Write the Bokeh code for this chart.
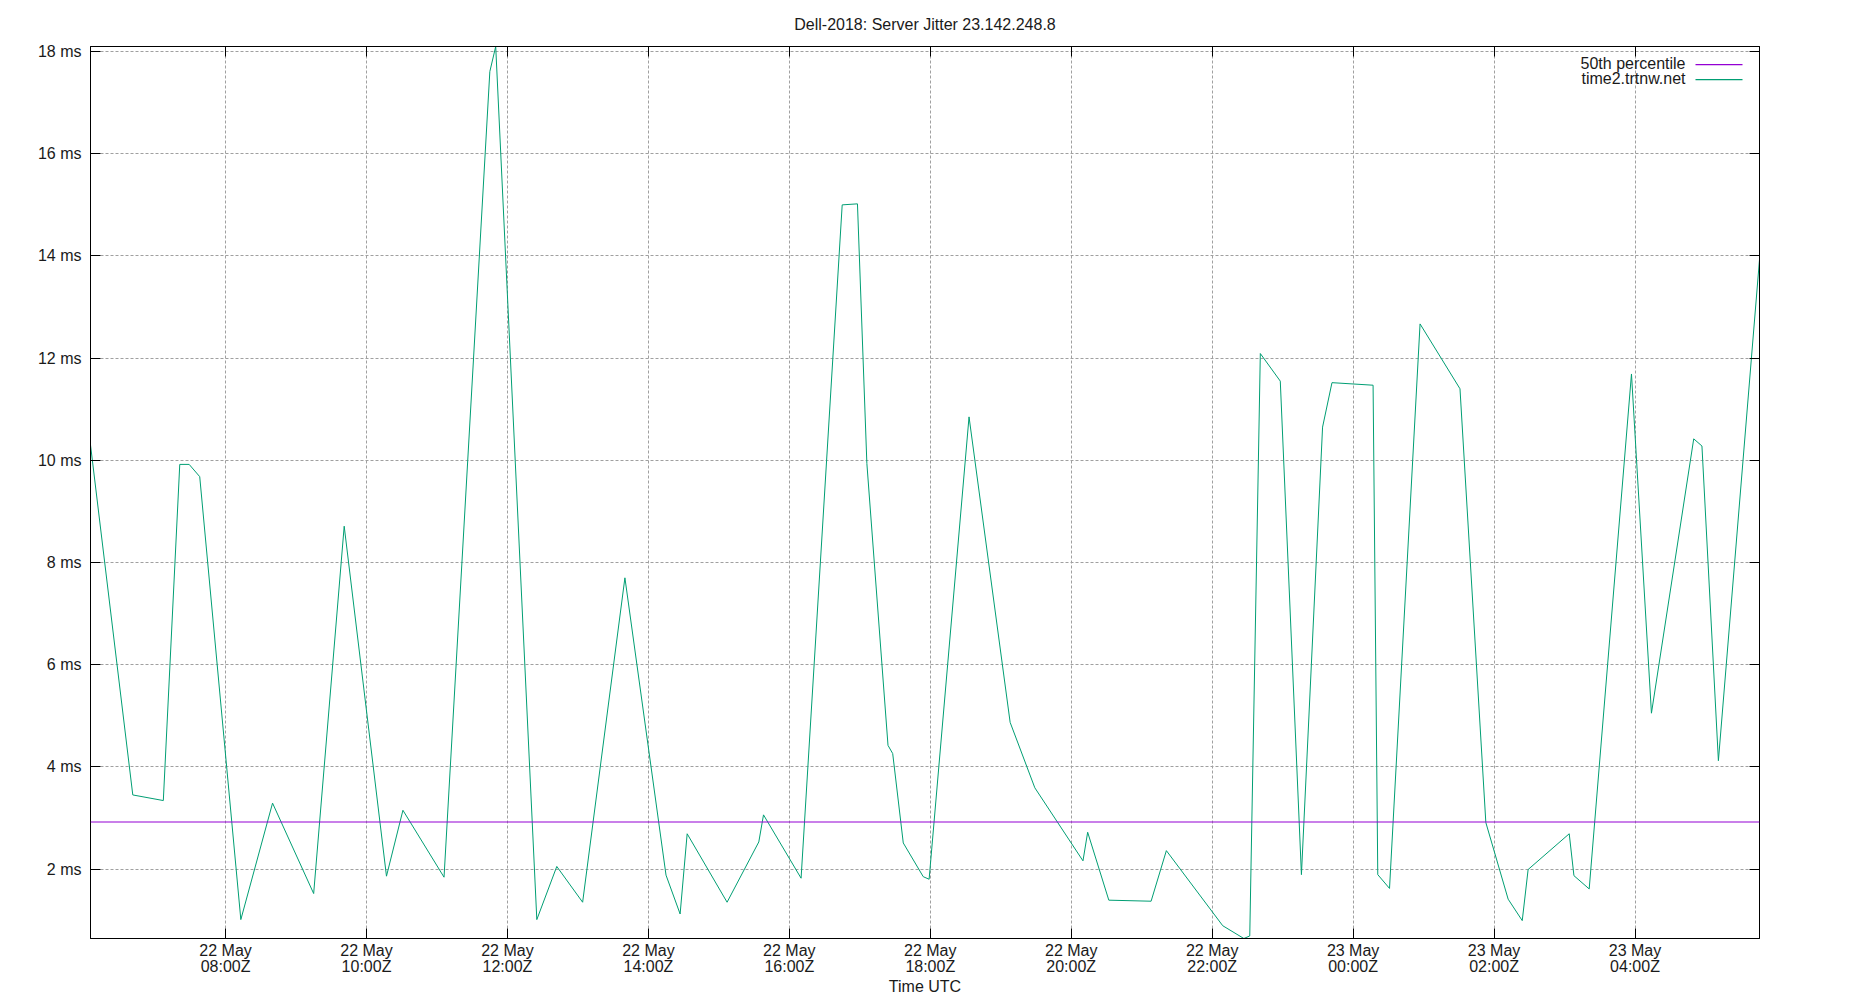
import pandas as pd
from bokeh.plotting import figure
from bokeh.models import (Range1d, FixedTicker, DatetimeAxis, LinearAxis, Label,
                          BoxAnnotation, Span, CustomJSTickFormatter)
from bokeh.embed import file_html
from bokeh.resources import INLINE

# ---------------- data ----------------
chart_title = "Dell-2018: Server Jitter 23.142.248.8"
series_name = "time2.trtnw.net"
percentile_name = "50th percentile"

times = [
    "2024-05-22 06:05", "2024-05-22 06:41", "2024-05-22 07:07", "2024-05-22 07:21",
    "2024-05-22 07:29", "2024-05-22 07:38", "2024-05-22 08:13", "2024-05-22 08:40",
    "2024-05-22 09:15", "2024-05-22 09:41", "2024-05-22 10:17", "2024-05-22 10:31",
    "2024-05-22 11:06", "2024-05-22 11:45", "2024-05-22 11:50", "2024-05-22 12:25",
    "2024-05-22 12:42", "2024-05-22 13:04", "2024-05-22 13:40", "2024-05-22 14:15",
    "2024-05-22 14:27", "2024-05-22 14:33", "2024-05-22 15:07", "2024-05-22 15:34",
    "2024-05-22 15:38", "2024-05-22 16:10", "2024-05-22 16:45", "2024-05-22 16:58",
    "2024-05-22 17:06", "2024-05-22 17:24", "2024-05-22 17:28", "2024-05-22 17:37",
    "2024-05-22 17:54", "2024-05-22 17:59", "2024-05-22 18:33", "2024-05-22 19:08",
    "2024-05-22 19:29", "2024-05-22 20:10", "2024-05-22 20:14", "2024-05-22 20:32",
    "2024-05-22 21:08", "2024-05-22 21:21", "2024-05-22 22:09", "2024-05-22 22:27",
    "2024-05-22 22:32", "2024-05-22 22:41", "2024-05-22 22:58", "2024-05-22 23:16",
    "2024-05-22 23:34", "2024-05-22 23:42", "2024-05-23 00:17", "2024-05-23 00:21",
    "2024-05-23 00:31", "2024-05-23 00:57", "2024-05-23 01:31", "2024-05-23 01:53",
    "2024-05-23 02:12", "2024-05-23 02:24", "2024-05-23 02:29", "2024-05-23 03:04",
    "2024-05-23 03:08", "2024-05-23 03:21", "2024-05-23 03:57", "2024-05-23 04:14",
    "2024-05-23 04:50", "2024-05-23 04:57", "2024-05-23 05:11", "2024-05-23 05:46",
]
jitter_ms = [
    10.30, 3.45, 3.34, 9.92,
    9.92, 9.68, 1.01, 3.29,
    1.52, 8.71, 1.86, 3.15,
    1.84, 17.61, 18.10, 1.01,
    2.05, 1.35, 7.70, 1.88,
    1.12, 2.69, 1.35, 2.53,
    3.06, 1.82, 15.00, 15.02,
    9.94, 4.42, 4.26, 2.51,
    1.85, 1.80, 10.85, 4.87,
    3.59, 2.16, 2.72, 1.39,
    1.37, 2.36, 0.89, 0.64,
    0.69, 12.09, 11.55, 1.89,
    10.65, 11.52, 11.47, 1.89,
    1.62, 12.67, 11.40, 2.91,
    1.41, 0.99, 1.99, 2.69,
    1.87, 1.61, 11.69, 5.05,
    10.42, 10.28, 4.12, 13.93,
]
percentile_50_ms = 2.92

x_tick_times = ["2024-05-22 08:00", "2024-05-22 10:00", "2024-05-22 12:00",
                "2024-05-22 14:00", "2024-05-22 16:00", "2024-05-22 18:00",
                "2024-05-22 20:00", "2024-05-22 22:00", "2024-05-23 00:00",
                "2024-05-23 02:00", "2024-05-23 04:00"]
x_tick_labels = ["22 May\n08:00Z", "22 May\n10:00Z", "22 May\n12:00Z",
                 "22 May\n14:00Z", "22 May\n16:00Z", "22 May\n18:00Z",
                 "22 May\n20:00Z", "22 May\n22:00Z", "23 May\n00:00Z",
                 "23 May\n02:00Z", "23 May\n04:00Z"]
y_ticks = [2, 4, 6, 8, 10, 12, 14, 16, 18]
y_tick_labels = ["2 ms", "4 ms", "6 ms", "8 ms", "10 ms", "12 ms", "14 ms", "16 ms", "18 ms"]
x_axis_label = "Time UTC"

# ---------------- figure ----------------
FONT = "Liberation Sans"
FS = "16px"
TXT = "#1a1a1a"
t = pd.to_datetime(times)
x_ms = [ts.value / 1e6 for ts in t]
tick_ms = [pd.Timestamp(s).value / 1e6 for s in x_tick_times]

FW, FH = 1669, 892
TOP, BOTTOM, LEFT = 45, 55, 90

p = figure(
    x_axis_type="datetime",
    frame_width=FW, frame_height=FH,
    min_border_left=LEFT, min_border_right=60,
    min_border_top=TOP, min_border_bottom=BOTTOM,
    output_backend="svg", toolbar_location=None,
    x_range=Range1d(min(x_ms), max(x_ms)),
    y_range=Range1d(min(jitter_ms), max(jitter_ms)),
    background_fill_color="white", border_fill_color="white",
)
p.outline_line_color = "black"
p.outline_line_width = 1

p.title.text = chart_title
p.title.align = "center"
p.title.text_font = FONT
p.title.text_font_size = FS
p.title.text_font_style = "normal"
p.title.text_color = TXT
p.title.standoff = 27

# x axis
xa = p.xaxis[0]
xa.ticker = FixedTicker(ticks=tick_ms)
xa.major_label_overrides = {k: v for k, v in zip(tick_ms, x_tick_labels)}
xa.axis_label = x_axis_label
xa.major_tick_in = 10
xa.major_tick_out = 0
xa.minor_tick_line_color = None
xa.major_label_standoff = 3
xa.axis_label_standoff = 0
xa.major_label_text_font = FONT
xa.major_label_text_font_size = FS
xa.axis_label_text_font = FONT
xa.axis_label_text_font_size = FS
xa.axis_label_text_font_style = "normal"
xa.major_label_text_color = TXT
xa.axis_label_text_color = TXT
xa.major_label_text_line_height = 0.95

ya = p.yaxis[0]
ya.ticker = FixedTicker(ticks=y_ticks)
ya.major_label_overrides = {k: v for k, v in zip(y_ticks, y_tick_labels)}
ya.major_tick_in = 10
ya.major_tick_out = 0
ya.minor_tick_line_color = None
ya.major_label_standoff = 9
ya.major_label_text_font = FONT
ya.major_label_text_font_size = FS
ya.major_label_text_color = TXT

# mirrored ticks on top and right (no labels)
blank = CustomJSTickFormatter(code="return ''")
top_ax = DatetimeAxis(ticker=FixedTicker(ticks=tick_ms), formatter=blank,
                      major_tick_in=10, major_tick_out=0,
                      minor_tick_line_color=None, major_label_standoff=0)
p.add_layout(top_ax, "above")
right_ax = LinearAxis(ticker=FixedTicker(ticks=y_ticks), formatter=blank,
                      major_tick_in=10, major_tick_out=0,
                      minor_tick_line_color=None, major_label_standoff=0)
p.add_layout(right_ax, "right")

for g in (p.xgrid[0], p.ygrid[0]):
    g.grid_line_color = "#a0a0a0"
    g.grid_line_dash = "3 2"
    g.grid_line_width = 1
p.xgrid[0].ticker = FixedTicker(ticks=tick_ms)
p.ygrid[0].ticker = FixedTicker(ticks=y_ticks)

# data
GREEN = "#009e73"
PURPLE = "#9400d3"
p.add_layout(Span(location=percentile_50_ms, dimension="width", line_color=PURPLE, line_width=1.2))
p.line(x_ms, jitter_ms, line_color=GREEN, line_width=1)

# legend (text right-aligned, then line sample); screen units are relative to the frame
leg_text_right = 1595
leg_line_left, leg_line_right = 1605, 1652
leg_text_y = [875.5, 860.5]
leg_line_y = [873.8, 858.8]
for i, (name, col) in enumerate([(percentile_name, PURPLE), (series_name, GREEN)]):
    p.add_layout(Label(x=leg_text_right, y=leg_text_y[i], x_units="screen", y_units="screen",
                       text=name, text_align="right", text_baseline="middle",
                       text_font=FONT, text_font_size=FS, text_color=TXT))
    p.add_layout(BoxAnnotation(left=leg_line_left, right=leg_line_right,
                               bottom=leg_line_y[i] - 0.6, top=leg_line_y[i] + 0.6,
                               left_units="screen", right_units="screen",
                               top_units="screen", bottom_units="screen",
                               fill_color=col, fill_alpha=1, line_alpha=0))

open("out.html", "w").write(file_html(p, INLINE))
